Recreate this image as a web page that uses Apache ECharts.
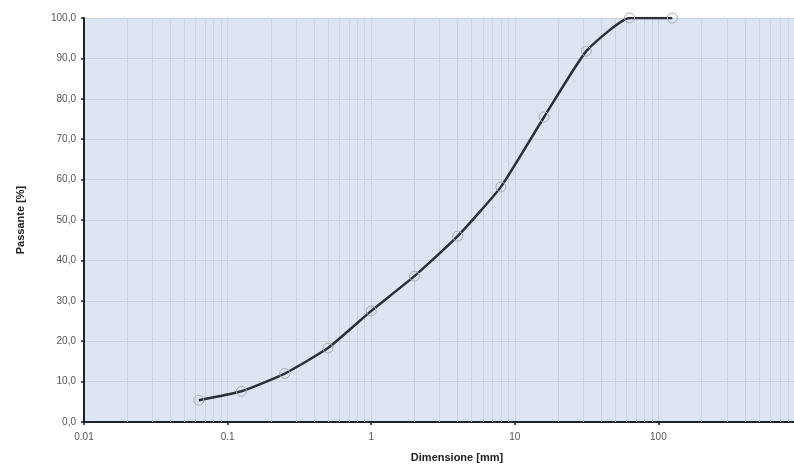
<!DOCTYPE html>
<html>
<head>
<meta charset="utf-8">
<script src="https://cdn.jsdelivr.net/npm/echarts@6/dist/echarts.min.js"></script>
<style>
  html, body { margin: 0; padding: 0; background: #ffffff; }
  #chart { width: 794px; height: 465px; }
</style>
</head>
<body>
<div id="chart"></div>
<script>
// Sieve sizes (mm) and cumulative passing (%)
const sieveSizes = [0.063, 0.125, 0.25, 0.5, 1, 2, 4, 8, 16, 31.5, 63, 125];
const passing    = [5.4, 7.6, 12.0, 18.3, 27.5, 36.1, 46.0, 58.2, 75.5, 91.8, 100.0, 100.0];

// Axis ranges
const xMin = 0.01, xMax = 1000;
const yMin = 0, yMax = 100, yStep = 10;

// Minor vertical grid lines: 2..9 within each decade
const minorX = [];
for (let d = xMin; d < xMax; d *= 10) {
  for (let k = 2; k <= 9; k++) minorX.push(+(d * k).toPrecision(6));
}

const chart = echarts.init(document.getElementById('chart'), null, { renderer: 'canvas' });

const labelFont = { fontFamily: 'Liberation Sans, Arial, sans-serif', fontSize: 10, color: '#555' };
const gridColor = '#cbd2de';

chart.setOption({
  animation: false,
  backgroundColor: '#ffffff',
  grid: {
    left: 84, width: 718, top: 18, bottom: 43,
    outerBoundsMode: 'none',
    containLabel: false,
    show: true,
    backgroundColor: '#dee5f2',
    borderWidth: 0
  },
  xAxis: {
    type: 'log',
    logBase: 10,
    min: xMin,
    max: xMax,
    name: 'Dimensione [mm]',
    nameLocation: 'middle',
    nameGap: 30,
    nameTextStyle: {
      fontFamily: 'Liberation Sans, Arial, sans-serif',
      fontSize: 11, fontWeight: 'bold', color: '#222',
      padding: [0, 0, 0, 28]
    },
    axisLine: { show: true, onZero: false, lineStyle: { color: '#1e232b', width: 2 } },
    axisTick: { show: true, length: 3, lineStyle: { color: '#1e232b', width: 1.5 } },
    axisLabel: Object.assign({ margin: 10, showMaxLabel: false, formatter: v => String(v) }, labelFont),
    splitLine: { show: true, lineStyle: { color: gridColor, width: 1 } }
  },
  yAxis: {
    type: 'value',
    min: yMin,
    max: yMax,
    interval: yStep,
    name: 'Passante [%]',
    nameLocation: 'middle',
    nameGap: 58,
    nameRotate: 90,
    nameTextStyle: {
      fontFamily: 'Liberation Sans, Arial, sans-serif',
      fontSize: 11, fontWeight: 'bold', color: '#222'
    },
    axisLine: { show: true, lineStyle: { color: '#1e232b', width: 2 } },
    axisTick: { show: true, length: 3, lineStyle: { color: '#1e232b', width: 1.5 } },
    axisLabel: Object.assign({ margin: 8, formatter: v => v.toFixed(1).replace('.', ',') }, labelFont),
    splitLine: { show: true, lineStyle: { color: gridColor, width: 1 } }
  },
  series: [
    {
      // minor vertical grid lines
      type: 'line',
      data: [],
      silent: true,
      markLine: {
        silent: true,
        symbol: 'none',
        label: { show: false },
        lineStyle: { type: 'solid', color: gridColor, width: 1 },
        data: minorX.map(v => ({ xAxis: v }))
      },
      z: 1
    },
    {
      name: 'Passante',
      type: 'line',
      data: sieveSizes.map((s, i) => [s, passing[i]]),
      smooth: 0.16,
      symbol: 'circle',
      symbolSize: 10,
      showSymbol: true,
      lineStyle: { color: '#2a2f38', width: 2.5 },
      itemStyle: { color: 'rgba(0,0,0,0)', borderColor: '#a8acb2', borderWidth: 1 },
      z: 5
    }
  ]
});
</script>
</body>
</html>
